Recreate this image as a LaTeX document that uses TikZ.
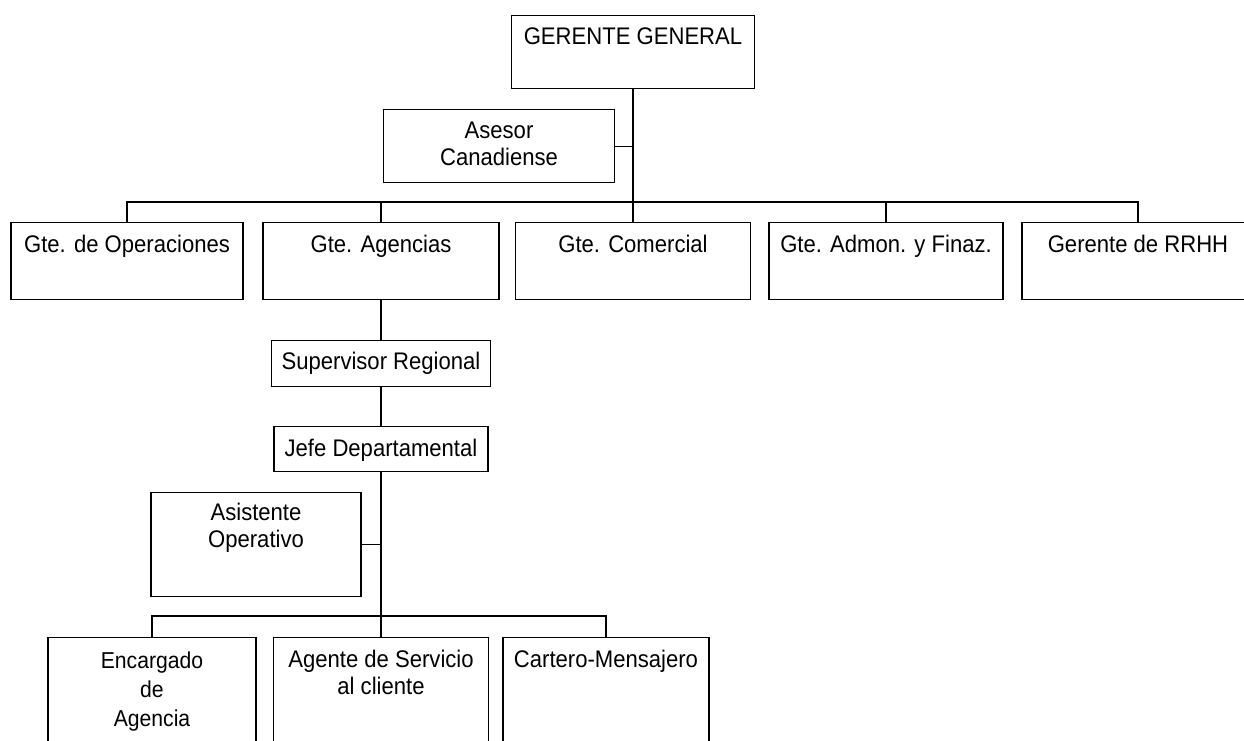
\documentclass[tikz,border=0pt]{standalone}
\usepackage{fontspec}
\setmainfont{Liberation Sans}[FakeStretch=0.92]
\begin{document}
\begin{tikzpicture}[x=1pt,y=-1pt,
  line width=1.2pt,
  box/.style={draw, anchor=north, inner sep=0pt},
  ttl/.style={anchor=base, inner sep=0pt, align=center, font=\fontsize{24}{27}\selectfont}]
\clip (0,0) rectangle (1244,741);
% boxes
\node[box, minimum width=243pt, minimum height=73pt] (gg) at (633,15) {};
\node[box, minimum width=231pt, minimum height=73pt] (as) at (499,109) {};
\node[box, minimum width=232pt, minimum height=77pt] (op) at (127,222) {};
\node[box, minimum width=236pt, minimum height=77pt] (ag) at (381,222) {};
\node[box, minimum width=235pt, minimum height=77pt] (co) at (633,222) {};
\node[box, minimum width=234pt, minimum height=77pt] (ad) at (886,222) {};
\node[box, minimum width=232pt, minimum height=77pt] (rh) at (1138,222) {};
\node[box, minimum width=219pt, minimum height=46pt] (sr) at (381,340) {};
\node[box, minimum width=214pt, minimum height=45pt] (jd) at (381,426) {};
\node[box, minimum width=210pt, minimum height=104pt] (ao) at (256,492) {};
\node[box, minimum width=208pt, minimum height=130pt] (en) at (152,637) {};
\node[box, minimum width=215pt, minimum height=130pt] (sc) at (381,637) {};
\node[box, minimum width=206pt, minimum height=130pt] (cm) at (606,637) {};
% texts
\node[ttl] (ggt) at ([yshift=-30pt]gg.north) {GERENTE GENERAL};
\node[ttl] (ast) at ([yshift=-56pt]as.north) {Asesor\\Canadiense};
\node[ttl] (opt) at ([yshift=-30pt]op.north) {Gte. de Operaciones};
\node[ttl] (agt) at ([yshift=-30pt]ag.north) {Gte. Agencias};
\node[ttl] (cot) at ([yshift=-30pt]co.north) {Gte. Comercial};
\node[ttl] (adt) at ([yshift=-30pt]ad.north) {Gte. Admon. y Finaz.};
\node[ttl] (rht) at ([yshift=-30pt]rh.north) {Gerente de RRHH};
\node[ttl] (srt) at ([yshift=-29pt]sr.north) {Supervisor Regional};
\node[ttl] (jdt) at ([yshift=-30pt]jd.north) {Jefe Departamental};
\node[ttl] (aot) at ([yshift=-55pt]ao.north) {Asistente\\Operativo};
\node[ttl, font=\fontsize{23}{29}\selectfont] (ent) at ([yshift=-89pt]en.north) {Encargado\\de\\Agencia};
\node[ttl] (sct) at ([yshift=-57pt]sc.north) {Agente de Servicio\\al cliente};
\node[ttl] (cmt) at ([yshift=-30pt]cm.north) {Cartero-Mensajero};
% connectors
\coordinate (b1) at (633,202);
\coordinate (b2) at (381,616);
\draw (gg.south) -- (co.north);
\draw (as.east) -- (as.east -| gg.south);
\draw (op.north) |- (b1) -| (rh.north);
\draw (ag.north) -- (ag.north |- b1);
\draw (ad.north) -- (ad.north |- b1);
\draw (ag.south) -- (sr.north);
\draw (sr.south) -- (jd.north);
\draw (jd.south) -- (sc.north);
\draw (ao.east) -- (ao.east -| jd.south);
\draw (en.north) |- (b2) -| (cm.north);
\end{tikzpicture}
\end{document}
